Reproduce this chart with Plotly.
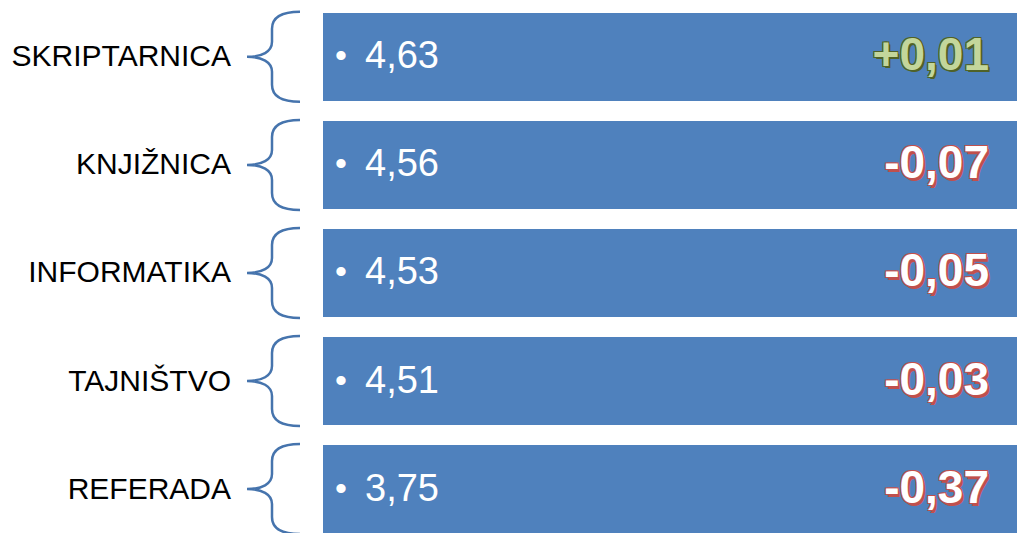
import plotly.graph_objects as go

categories = ["SKRIPTARNICA", "KNJIŽNICA", "INFORMATIKA", "TAJNIŠTVO", "REFERADA"]
scores = ["4,63", "4,56", "4,53", "4,51", "3,75"]
changes = ["+0,01", "-0,07", "-0,05", "-0,03", "-0,37"]

n = len(categories)
rows = list(range(n))

BOX_LEFT = 323
BOX_RIGHT = 1017
BOX_COLOR = "#4f81bd"
BRACE_COLOR = "#4674ad"
PITCH = 108.05  # pixels per row


def d(px):
    return px / PITCH


text_rows = [r + d(2) for r in rows]

fig = go.Figure()

# boxes as horizontal bars
fig.add_trace(go.Bar(
    orientation="h", y=rows, x=[BOX_RIGHT - BOX_LEFT] * n, base=BOX_LEFT,
    width=0.81, marker=dict(color=BOX_COLOR, line=dict(width=0)),
    hoverinfo="skip", showlegend=False,
))

# category labels
fig.add_trace(go.Scatter(
    x=[231] * n, y=text_rows, mode="text", text=categories,
    textposition="middle left",
    textfont=dict(family="Liberation Sans, Arial", size=30, color="#000000"),
    hoverinfo="skip", showlegend=False,
))

# bullets
fig.add_trace(go.Scatter(
    x=[341] * n, y=text_rows, mode="text", text=["•"] * n,
    textposition="middle center",
    textfont=dict(family="Liberation Sans, Arial", size=34, color="#ffffff"),
    hoverinfo="skip", showlegend=False,
))

# scores
fig.add_trace(go.Scatter(
    x=[365] * n, y=text_rows, mode="text", text=scores,
    textposition="middle right",
    textfont=dict(family="Liberation Sans, Arial", size=38, color="#ffffff"),
    hoverinfo="skip", showlegend=False,
))

# changes
green_outline = "#4f6228"
red_outline = "#c0504d"
for i, ch in enumerate(changes):
    if ch.startswith("+"):
        col = "#c3d69b"
        sh = (f"-1px -1px 0 {green_outline}, 1px -1px 0 {green_outline}, "
              f"-1px 1px 0 {green_outline}, 1px 1px 0 {green_outline}, "
              f"2px 2px 0 {green_outline}")
    else:
        col = "#ffffff"
        sh = (f"-1px -1px 0 {red_outline}, 1px -1px 0 {red_outline}, "
              f"-1px 1px 0 {red_outline}, 1px 1px 0 {red_outline}, "
              f"2px 3px 0 {red_outline}")
    fig.add_trace(go.Scatter(
        x=[989], y=[text_rows[i]], mode="text", text=[ch],
        textposition="middle left",
        textfont=dict(family="Liberation Sans, Arial", size=46, color=col,
                      weight="bold", shadow=sh),
        hoverinfo="skip", showlegend=False,
    ))

# braces
shapes = []
for i in rows:
    c = i
    pts = (
        f"M 300,{c - d(45)} "
        f"C 282,{c - d(45)} 272,{c - d(40)} 272,{c - d(28)} "
        f"L 272,{c - d(15)} "
        f"C 272,{c - d(5)} 262,{c} 247,{c} "
        f"C 262,{c} 272,{c + d(5)} 272,{c + d(15)} "
        f"L 272,{c + d(28)} "
        f"C 272,{c + d(40)} 282,{c + d(45)} 300,{c + d(45)}"
    )
    shapes.append(dict(type="path", path=pts, xref="x", yref="y",
                       line=dict(color=BRACE_COLOR, width=2.5),
                       fillcolor="rgba(0,0,0,0)", layer="above"))

top = -56.85 / PITCH
bottom = (533 - 56.85) / PITCH

fig.update_layout(
    width=1017, height=533,
    margin=dict(l=0, r=0, t=0, b=0),
    paper_bgcolor="#ffffff", plot_bgcolor="#ffffff",
    xaxis=dict(range=[0, 1017], visible=False, fixedrange=True),
    yaxis=dict(range=[bottom, top], visible=False, fixedrange=True),
    shapes=shapes,
    bargap=0,
)

fig.write_html(
    "out.html",
    config={"displayModeBar": False},
    post_script="document.body.style.margin='0';document.body.style.overflow='hidden';",
)
